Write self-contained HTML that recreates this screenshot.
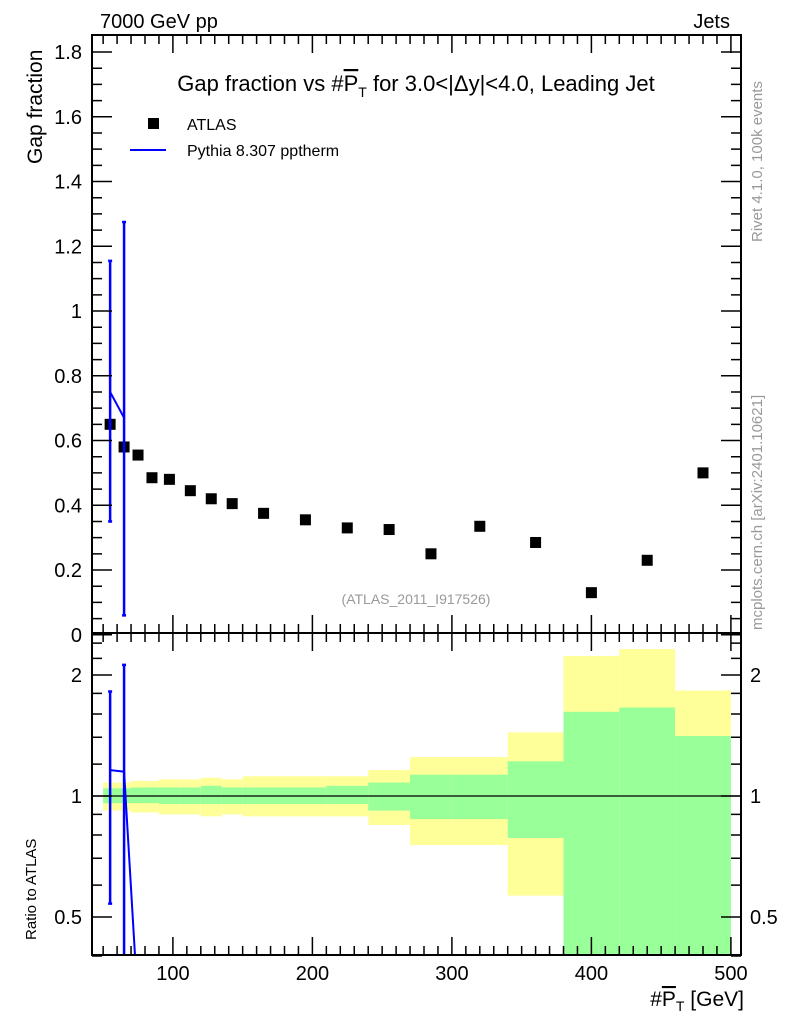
<!DOCTYPE html>
<html><head><meta charset="utf-8"><style>
html,body{margin:0;background:#fff;overflow:hidden;width:786px;height:1024px}
svg{display:block}
svg text{font-family:"Liberation Sans",Arial,sans-serif}
</style></head><body>
<svg id="c" width="786" height="1024" viewBox="0 0 786 1024" xmlns="http://www.w3.org/2000/svg">
<defs>
<clipPath id="cm"><rect x="92" y="35" width="649" height="598"/></clipPath>
<clipPath id="cr"><rect x="92" y="633" width="649" height="322"/></clipPath>
</defs>
<g id="bands" clip-path="url(#cr)"></g>
<g id="main" clip-path="url(#cm)"></g>
<g id="ratio" clip-path="url(#cr)"></g>
<g id="axes"></g>
<text x="100" y="28" font-size="20">7000 GeV pp</text>
<text x="730" y="28" font-size="20" text-anchor="end">Jets</text>
<text x="416" y="91" font-size="22" text-anchor="middle">Gap fraction vs #<tspan text-decoration="overline">P</tspan><tspan font-size="14" dy="6">T</tspan><tspan dy="-6"> for 3.0&lt;|Δy|&lt;4.0, Leading Jet</tspan></text>
<rect x="148" y="118" width="11" height="11" fill="#000"/>
<text x="187" y="130" font-size="16">ATLAS</text>
<line x1="130" y1="150" x2="166" y2="150" stroke="#0000ff" stroke-width="2"/>
<text x="187" y="156" font-size="16">Pythia 8.307 pptherm</text>
<text x="416" y="604" font-size="14" fill="#999" text-anchor="middle">(ATLAS_2011_I917526)</text>
<text transform="translate(42,164) rotate(-90)" font-size="21" text-anchor="start">Gap fraction</text>
<text transform="translate(36,940) rotate(-90)" font-size="15">Ratio to ATLAS</text>
<text x="744" y="1006" font-size="21" text-anchor="end">#<tspan text-decoration="overline">P</tspan><tspan font-size="14" dy="5">T</tspan><tspan dy="-5"> [GeV]</tspan></text>
<text transform="translate(762,242) rotate(-90)" font-size="15" fill="#999">Rivet 4.1.0,  100k events</text>
<text transform="translate(762,630) rotate(-90)" font-size="15" fill="#999">mcplots.cern.ch [arXiv:2401.10621]</text>
</svg>
<script>
const binEdges=[50,60,70,80,90,105,120,135,150,180,210,240,270,300,340,380,420,460,500];
const dataVals=[0.65,0.58,0.555,0.485,0.48,0.445,0.42,0.405,0.375,0.355,0.33,0.325,0.25,0.335,0.285,0.13,0.23,0.50];
const mcX=[55,65];
const mcVals=[0.75,0.67];
const mcErrLo=[0.35,0.06];
const mcErrHi=[1.155,1.275];
const ratioX=[55,65,75];
const ratioMc=[1.16,1.15,0.3];
const ratioErrLo=[0.54,0.3];
const ratioErrHi=[1.82,2.12];
const greenHi=[1.045,1.045,1.05,1.05,1.05,1.05,1.06,1.05,1.05,1.05,1.06,1.08,1.13,1.13,1.22,1.62,1.66,1.41];
const greenLo=[0.96,0.96,0.96,0.96,0.955,0.955,0.955,0.955,0.955,0.955,0.955,0.92,0.876,0.876,0.786,0.3,0.3,0.3];
const yellowHi=[1.08,1.08,1.09,1.09,1.1,1.1,1.11,1.1,1.12,1.12,1.12,1.16,1.25,1.25,1.44,2.23,2.32,1.83];
const yellowLo=[0.92,0.92,0.91,0.91,0.9,0.9,0.89,0.9,0.89,0.89,0.89,0.847,0.755,0.755,0.565,0.3,0.3,0.59];
const xTicks=[100,200,300,400,500];
const yTicks=[0,0.2,0.4,0.6,0.8,1,1.2,1.4,1.6,1.8];
const rTicks=[0.5,1,2];

const NS="http://www.w3.org/2000/svg";
const L=92,R=741,MT=35,MB=633,RB=955;
const X=v=>33.4+1.395*v;
const Y=v=>634.75-323.75*v;
const RY=v=>796-121*Math.log2(v);
function mk(p,t,a){const e=document.createElementNS(NS,t);for(const k in a)e.setAttribute(k,a[k]);document.getElementById(p).appendChild(e);return e;}
for(let i=0;i<dataVals.length;i++){
 const x0=X(binEdges[i]),x1=X(binEdges[i+1]);
 let e=mk('bands','rect',{x:x0,y:RY(yellowHi[i]),width:x1-x0,height:RY(yellowLo[i])-RY(yellowHi[i]),fill:'#ffff99'});
 
 
 e=mk('bands','rect',{x:x0,y:RY(greenHi[i]),width:x1-x0,height:RY(greenLo[i])-RY(greenHi[i]),fill:'#99ff99'});
 
 
}
let e=mk('bands','line',{x1:L,x2:R,y1:RY(1),y2:RY(1),stroke:'#000','stroke-width':1.2});


for(let i=0;i<dataVals.length;i++){
 const cx=X((binEdges[i]+binEdges[i+1])/2);
 const r=mk('main','rect',{x:cx-5.5,y:Y(dataVals[i])-5.5,width:11,height:11,fill:'#000'});
 
 
}
let pl=mk('main','polyline',{points:mcX.map((x,i)=>X(x)+','+Y(mcVals[i])).join(' '),fill:'none',stroke:'#0000ff','stroke-width':2});


for(let i=0;i<mcErrLo.length;i++){
 const x=X(mcX[i]);
 const g=mk('main','path',{d:`M${x},${Y(mcErrLo[i])}V${Y(mcErrHi[i])}M${x-2},${Y(mcErrLo[i])}h4M${x-2},${Y(mcErrHi[i])}h4`,stroke:'#0000ff','stroke-width':2.5,fill:'none'});
 
 
}
pl=mk('ratio','polyline',{points:ratioX.map((x,i)=>X(x)+','+RY(ratioMc[i])).join(' '),fill:'none',stroke:'#0000ff','stroke-width':2});


for(let i=0;i<ratioErrLo.length;i++){
 const x=X(ratioX[i]);
 const g=mk('ratio','path',{d:`M${x},${RY(ratioErrLo[i])}V${RY(ratioErrHi[i])}M${x-2},${RY(ratioErrLo[i])}h4M${x-2},${RY(ratioErrHi[i])}h4`,stroke:'#0000ff','stroke-width':2.5,fill:'none'});
 
 
}
for(const [t,b,n] of [[MT,MB,'main-frame'],[MB,RB,'ratio-frame']]){
 const f=mk('axes','rect',{x:L,y:t,width:R-L,height:b-t,fill:'none',stroke:'#000','stroke-width':2});
 
 
}
let d='';
for(let v=50;v<=500;v+=10){const x=X(v),len=v%100==0?18:9;
 d+=`M${x},${MT}v${len}M${x},${MB}v${-len}M${x},${MB}v${len}M${x},${RB}v${-len}`;}
for(let v=0;v<=1.85;v+=0.05){const y=Y(v),k=Math.round(v*100)%20==0,len=k?20:10;
 d+=`M${L},${y}h${len}M${R},${y}h${-len}`;}
for(const v of [0.4,0.5,0.6,0.7,0.8,0.9,1,1.2,1.4,1.6,1.8,2,2.2,2.4]){const y=RY(v),len=(v==0.5||v==1||v==2)?20:10;
 d+=`M${L},${y}h${len}M${R},${y}h${-len}`;}
e=mk('axes','path',{d:d,stroke:'#000','stroke-width':1.5,fill:'none'});


for(const v of xTicks){const t=mk('axes','text',{x:X(v),y:980,'font-size':20,'text-anchor':'middle'});t.textContent=v;
 
 }
for(const v of yTicks){const t=mk('axes','text',{x:82,y:Y(v)+7,'font-size':20,'text-anchor':'end'});t.textContent=String(v);
 
 }
for(const v of rTicks){for(const [x,a] of [[82,'end'],[750,'start']]){const t=mk('axes','text',{x:x,y:RY(v)+7,'font-size':20,'text-anchor':a});t.textContent=String(v);
 
 }}
</script>
</body></html>
